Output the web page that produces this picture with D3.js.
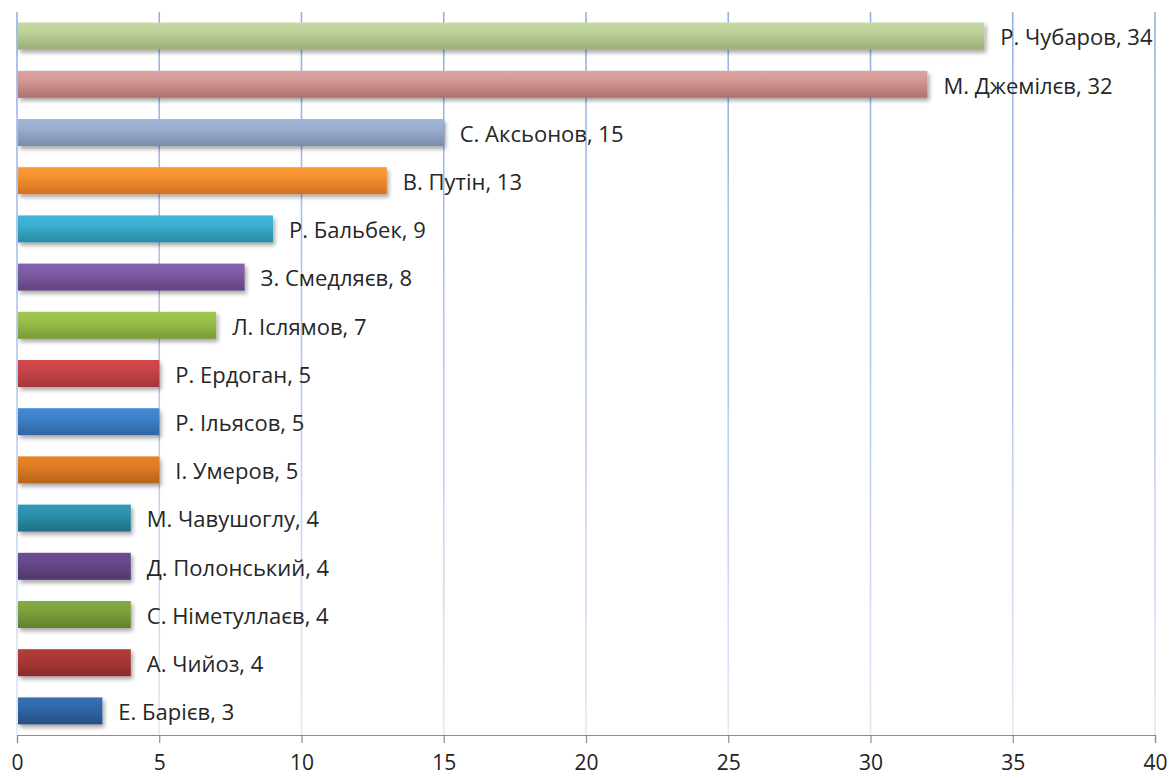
<!DOCTYPE html>
<html>
<head>
<meta charset="utf-8">
<script src="https://cdn.jsdelivr.net/npm/d3@7"></script>
<style>
  html, body { margin: 0; padding: 0; background: #fff; }
  svg { display: block; }
  text { font-family: "Open Sans", "Noto Sans", sans-serif; }
</style>
</head>
<body>
<svg id="chart" width="1170" height="778"></svg>
<script>
// Names mentioned, in display order (top to bottom)
const names = [
  "Р. Чубаров", "М. Джемілєв", "С. Аксьонов", "В. Путін", "Р. Бальбек",
  "З. Смедляєв", "Л. Іслямов", "Р. Ердоган", "Р. Ільясов", "І. Умеров",
  "М. Чавушоглу", "Д. Полонський", "С. Німетуллаєв", "А. Чийоз", "Е. Барієв"
];
// Mention counts
const counts = [34, 32, 15, 13, 9, 8, 7, 5, 5, 5, 4, 4, 4, 4, 3];
// Axis ticks
const ticks = [0, 5, 10, 15, 20, 25, 30, 35, 40];
// Bar colours: [top, bottom] of each bar's shading
const barColors = [
  ["#c6d9a2", "#9cae78"],
  ["#dca3a2", "#ad6f6d"],
  ["#a2b6d9", "#7a8cab"],
  ["#fd9a36", "#d2711f"],
  ["#3fb8da", "#2a8aa5"],
  ["#8562ad", "#62427f"],
  ["#a1c84f", "#7b9b39"],
  ["#d4474a", "#a3363a"],
  ["#438ad4", "#2f64a4"],
  ["#e88425", "#b8621a"],
  ["#2f9ab6", "#216f86"],
  ["#6d4e94", "#4f376c"],
  ["#86aa44", "#62812c"],
  ["#b23d39", "#892b2a"],
  ["#3570b4", "#254f83"]
];

const svg = d3.select("#chart");
const margin = { left: 17, right: 15, top: 12, bottom: 43 };
const W = 1170, H = 778;

const x = d3.scaleLinear().domain([0, 40]).range([margin.left, W - margin.right]);
const y = d3.scaleBand().domain(names).range([margin.top, H - margin.bottom]).paddingInner(0.44).paddingOuter(0.22);

const defs = svg.append("defs");

// Gridlines fade from blue at the top to pale at the bottom
const gg = defs.append("linearGradient")
  .attr("id", "gridGrad").attr("gradientUnits", "userSpaceOnUse")
  .attr("x1", 0).attr("y1", margin.top).attr("x2", 0).attr("y2", H - margin.bottom);
gg.append("stop").attr("offset", "0%").attr("stop-color", "#93b1e3");
gg.append("stop").attr("offset", "55%").attr("stop-color", "#b9cbec");
gg.append("stop").attr("offset", "100%").attr("stop-color", "#e2e9f6");

// Soft drop shadow under the bars
const f = defs.append("filter").attr("id", "shadow")
  .attr("x", "-5%").attr("y", "-30%").attr("width", "115%").attr("height", "180%");
f.append("feGaussianBlur").attr("in", "SourceAlpha").attr("stdDeviation", 2.2).attr("result", "b");
f.append("feOffset").attr("in", "b").attr("dx", 2).attr("dy", 3).attr("result", "o");
f.append("feComponentTransfer").attr("in", "o").attr("result", "s")
  .append("feFuncA").attr("type", "linear").attr("slope", 0.35);
const fm = f.append("feMerge");
fm.append("feMergeNode").attr("in", "s");
fm.append("feMergeNode").attr("in", "SourceGraphic");

barColors.forEach((c, i) => {
  const g = defs.append("linearGradient").attr("id", "bar" + i)
    .attr("x1", 0).attr("y1", 0).attr("x2", 0).attr("y2", 1);
  g.append("stop").attr("offset", "0%").attr("stop-color", c[0]);
  g.append("stop").attr("offset", "35%").attr("stop-color", d3.interpolateRgb(c[0], c[1])(0.2));
  g.append("stop").attr("offset", "100%").attr("stop-color", c[1]);
});

// Vertical gridlines
svg.append("g").selectAll("line").data(ticks).join("line")
  .attr("x1", d => x(d)).attr("x2", d => x(d))
  .attr("y1", margin.top).attr("y2", H - margin.bottom)
  .attr("stroke", "url(#gridGrad)").attr("stroke-width", 1.6);

// Bars
svg.append("g").selectAll("rect").data(names).join("rect")
  .attr("x", x(0) + 1)
  .attr("y", d => y(d))
  .attr("width", (d, i) => x(counts[i]) - x(0) - 1)
  .attr("height", y.bandwidth())
  .attr("fill", (d, i) => `url(#bar${i})`)
  .attr("filter", "url(#shadow)");

// Value labels
svg.append("g").selectAll("text").data(names).join("text")
  .attr("x", (d, i) => x(counts[i]) + 16)
  .attr("y", d => y(d) + y.bandwidth() / 2)
  .attr("dy", "0.42em")
  .attr("font-size", 22)
  .attr("fill", "#262626")
  .text((d, i) => `${d}, ${counts[i]}`);

// Bottom axis
const axis = svg.append("g").attr("transform", `translate(0,${H - margin.bottom})`)
  .call(d3.axisBottom(x).tickValues(ticks).tickSize(8).tickPadding(12).tickFormat(d3.format("d")));
axis.select(".domain").attr("stroke", "#8c8c8c").attr("stroke-width", 1.2);
axis.selectAll(".tick line").attr("stroke", "#8c8c8c").attr("stroke-width", 1.2);
axis.selectAll(".tick text").attr("font-size", 21).attr("fill", "#222")
  .style("font-family", "'Open Sans', 'Noto Sans', sans-serif");
</script>
</body>
</html>
